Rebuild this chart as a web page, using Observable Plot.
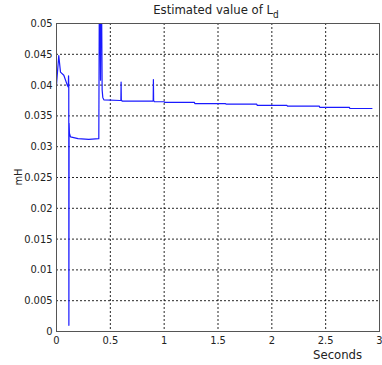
<!DOCTYPE html>
<html>
<head>
<meta charset="utf-8">
<script src="https://cdn.jsdelivr.net/npm/d3@7"></script>
<script src="https://cdn.jsdelivr.net/npm/@observablehq/plot@0.6"></script>
<style>
  body { margin: 0; background: #fff; }
  #wrap { position: relative; width: 382px; height: 365px; font-family: "Liberation Sans Narrow", "DejaVu Sans Condensed", "Liberation Sans", sans-serif; }
  #title { position: absolute; left: 0; width: 382px; top: 2px; text-align: center; font-size: 13px; color: #222; padding-left: 50px; box-sizing: border-box; }
  #xlab { position: absolute; left: 313px; top: 348px; font-size: 13px; line-height: 13px; color: #222; }
  #ylab { position: absolute; left: 18px; top: 177px; font-size: 11px; line-height: 11px; color: #222; transform: translate(-50%, -50%) rotate(-90deg); white-space: nowrap; }
  svg { position: absolute; left: 0; top: 0; }
</style>
</head>
<body>
<div id="wrap">
  <div id="title">Estimated value of L<sub style="font-size:10px">d</sub></div>
  <div id="xlab">Seconds</div>
  <div id="ylab">mH</div>
</div>
<script>
const times = [0, 0.002, 0.021, 0.037, 0.068, 0.1, 0.109, 0.112, 0.114, 0.115, 0.117, 0.12, 0.13, 0.2, 0.3, 0.393, 0.398, 0.403, 0.409, 0.412, 0.418, 0.424, 0.43, 0.44,
  0.59, 0.598, 0.6, 0.602, 0.61, 0.89, 0.898, 0.9, 0.902, 0.91, 1.0, 1.005, 1.28, 1.285, 1.57, 1.575, 1.86, 1.865, 2.14, 2.145, 2.44, 2.445, 2.72, 2.725, 2.93];
const values = [0.0400, 0.0405, 0.0448, 0.0421, 0.0416, 0.0400, 0.0397, 0.0415, 0.0398, 0.0010, 0.0338, 0.0322, 0.0316, 0.0313, 0.0312, 0.0313, 0.0550, 0.0550, 0.0408, 0.0550, 0.0550, 0.0392, 0.0380, 0.0376,
  0.0375, 0.0375, 0.0405, 0.0376, 0.0374, 0.0374, 0.0374, 0.0409, 0.0375, 0.0373, 0.0373, 0.0372, 0.0372, 0.0370, 0.0370, 0.0369, 0.0369, 0.0367, 0.0367, 0.0366, 0.0366, 0.0364, 0.0364, 0.0362, 0.0362];
const xTicks = [0, 0.5, 1, 1.5, 2, 2.5, 3];
const yTicks = [0, 0.005, 0.01, 0.015, 0.02, 0.025, 0.03, 0.035, 0.04, 0.045, 0.05];

const data = times.map((t, i) => ({t, v: values[i]}));
const fmt = d => String(+d.toFixed(3));
const tickFont = {fontSize: 11, fill: "#222"};

const chart = Plot.plot({
  width: 382,
  height: 365,
  marginTop: 23,
  marginBottom: 34,
  marginLeft: 56,
  marginRight: 3,
  style: {fontFamily: '"Liberation Sans Narrow", "DejaVu Sans Condensed", "Liberation Sans", sans-serif', background: "transparent"},
  x: {domain: [0, 3]},
  y: {domain: [0, 0.05]},
  marks: [
    Plot.gridX(xTicks.slice(1, -1), {stroke: "#000", strokeOpacity: 0.85, strokeDasharray: "2,2"}),
    Plot.gridY(yTicks.slice(1, -1), {stroke: "#000", strokeOpacity: 0.85, strokeDasharray: "2,2"}),
    Plot.line(data, {x: "t", y: "v", stroke: "#1a1aff", strokeWidth: 1.2, clip: true}),
    Plot.frame({stroke: "#555"}),
    Plot.axisX(xTicks, {tickSize: 0, tickPadding: 5, tickFormat: fmt, label: null, ...tickFont}),
    Plot.axisY(yTicks, {tickSize: 0, tickPadding: 4, tickFormat: fmt, label: null, ...tickFont})
  ]
});
document.getElementById("wrap").prepend(chart);
</script>
</body>
</html>
